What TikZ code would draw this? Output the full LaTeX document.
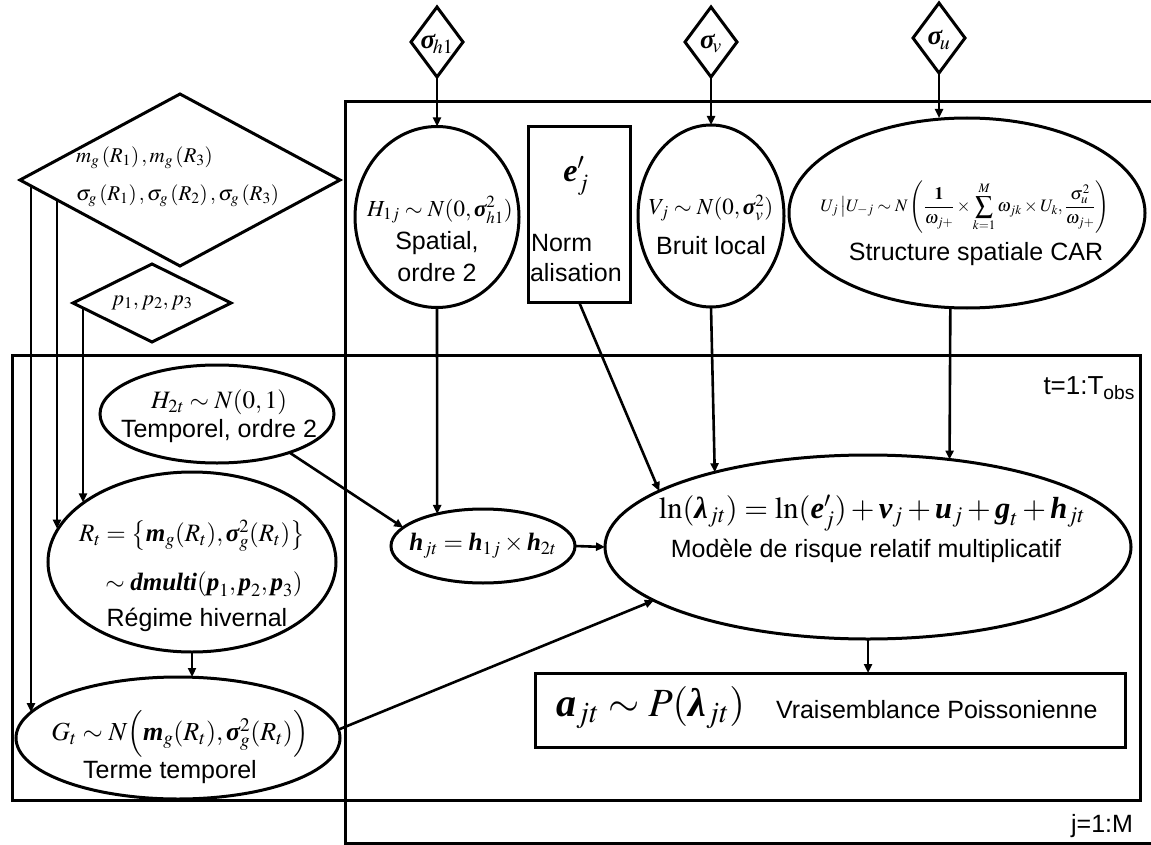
\documentclass[tikz,border=0pt]{standalone}
\usepackage{amsmath}
\usepackage{mathptmx}
\usepackage[no-math]{fontspec}
\setmainfont{Liberation Sans}
\newfontfamily\tms{Liberation Serif}
\usetikzlibrary{shapes.geometric,arrows.meta,calc}
\newcommand\B[1]{\text{\tms\bfseries\itshape #1}}
\newcommand\fs[1]{\fontsize{#1}{#1}\selectfont}
\begin{document}
\begin{tikzpicture}[x=1pt,y=-1pt,
  every node/.style={inner sep=0pt,outer sep=0pt},
  shp/.style={draw,line width=3pt},
  ell/.style={shp,ellipse},
  dia/.style={shp,diamond},
  arr/.style={line width=2.6pt,-{Triangle[length=9pt,width=8pt]}},
  lab/.style={font=\fs{25}},
  plate/.style={line width=3pt},
]
\useasboundingbox (0,0) rectangle (1151,845);
% plates
\draw[plate] (345,102) rectangle (1200,843);
\draw[plate] (12,355) rectangle (1140,800);
\node[font=\fs{26},anchor=east] (tl) at (1135,388) {t=1:T\textsubscript{obs}};
\node[font=\fs{25},anchor=east] (jl) at (1133,826) {j=1:M};

% hyperparameter diamonds
\node[dia,minimum width=52pt,minimum height=70pt] (Sh) at (437,42) {};
\node[dia,minimum width=52pt,minimum height=70pt] (Sv) at (711,42) {};
\node[dia,minimum width=52pt,minimum height=70pt] (Su) at (939,38) {};
\node[font=\fs{27}] (Sht) at (437,44) {$\B{σ}_{\!h1}$};
\node[font=\fs{27}] (Svt) at (711,44) {$\B{σ}_{\!v}$};
\node[font=\fs{27}] (Sut) at (939,40) {$\B{σ}_{\!u}$};

\node[dia,minimum width=320pt,minimum height=172pt] (MG) at (180,180) {};
\node[font=\fs{21},anchor=west] (MGa) at (76,158) {$m_g\left(R_1\right),m_g\left(R_3\right)$};
\node[font=\fs{21},anchor=west] (MGb) at (76,196) {$\sigma_g\left(R_1\right),\sigma_g\left(R_2\right),\sigma_g\left(R_3\right)$};
\node[dia,minimum width=158pt,minimum height=78pt] (P) at (152,303) {};
\node[font=\fs{22}] (Pt) at (152,303) {$p_1,p_2,p_3$};

% spatial nodes
\node[ell,minimum width=164pt,minimum height=181pt] (H1) at (437,217) {};
\node[font=\fs{23}] (H1f) at (440,210) {$H_{1j}\sim N(0,\B{σ}^2_{h1})$};
\node[lab] (H1a) at (437,243) {Spatial,};
\node[lab] (H1b) at (437,273) {ordre 2};

\node[shp,minimum width=102pt,minimum height=175pt] (E) at (579,214.5) {};
\node[font=\fs{32}] (Ef) at (576,176) {$\B{e}^{\prime}_{j}$};
\node[lab,anchor=west] (Ea) at (531,243) {Norm};
\node[lab,anchor=west] (Eb) at (530,273) {alisation};

\node[ell,minimum width=146pt,minimum height=182pt] (V) at (711,216) {};
\node[font=\fs{23}] (Vf) at (711,208) {$V_j\sim N(0,\B{σ}^2_v)$};
\node[lab] (Va) at (711,246) {Bruit local};

\node[ell,minimum width=356pt,minimum height=190pt] (CAR) at (967,213) {};
\node[font=\fs{17.5}] (CARf) at (965,207) {$\displaystyle U_j\,\bigl|U_{-j}\sim N\left(\frac{\mathbf{1}}{\omega_{j+}}\times\sum_{k=1}^{M}\omega_{jk}\times U_k,\frac{\sigma_u^2}{\omega_{j+}}\right)$};
\node[lab] (CARa) at (976,254) {Structure spatiale CAR};

% temporal nodes
\node[ell,minimum width=234pt,minimum height=98pt] (H2) at (217,414) {};
\node[font=\fs{25}] (H2f) at (219,402) {$H_{2t}\sim N(0,1)$};
\node[lab] (H2a) at (219,431) {Temporel, ordre 2};

\node[ell,minimum width=288pt,minimum height=180pt] (Rt) at (192,562) {};
\node[font=\fs{25}] (Rtf) at (192,536) {$R_t=\bigl\{\B{m}_g(R_t),\B{σ}^2_g(R_t)\bigr\}$};
\node[font=\fs{25}] (Rtg) at (204,584) {$\sim\B{dmulti}(\B{p}_1,\B{p}_2,\B{p}_3)$};
\node[lab] (Rta) at (197,620) {Régime hivernal};

\node[ell,minimum width=324pt,minimum height=122pt] (Gt) at (178,738) {};
\node[font=\fs{26}] (Gtf) at (180,734) {$G_t\sim N\Bigl(\B{m}_g(R_t),\B{σ}^2_g(R_t)\Bigr)$};
\node[lab] (Gta) at (170,772) {Terme temporel};

% interaction and model
\node[ell,minimum width=184pt,minimum height=74pt] (h) at (483,546) {};
\node[font=\fs{25}] (hf) at (483,546) {$\B{h}_{jt}=\B{h}_{1j}\times\B{h}_{2t}$};

\node[ell,minimum width=526pt,minimum height=184pt] (Mod) at (868,547) {};
\node[font=\fs{30.5}] (Modf) at (872,513) {$\ln(\B{λ}_{jt})=\ln(\B{e}^{\prime}_{j})+\B{v}_j+\B{u}_j+\B{g}_t+\B{h}_{jt}$};
\node[lab] (Moda) at (866,551) {Modèle de risque relatif multiplicatif};

\node[shp,minimum width=590pt,minimum height=74pt] (Po) at (830.5,710) {};
\node[font=\fs{40},anchor=west] (Pof) at (556,708) {$\B{a}_{jt}\sim P(\B{λ}_{jt})$};
\node[font=\fs{25},anchor=west] (Poa) at (776,710) {Vraisemblance Poissonienne};

% connectors
\draw[arr] (Sh.south) -- (H1.north);
\draw[arr] (Sv.south) -- (V.north);
\draw[arr] (Su.south) -- (Su.south |- CAR.north);

\coordinate (a1) at (intersection of MG.west--MG.south and 31,0--31,900);
\coordinate (a2) at (intersection of MG.west--MG.south and 57,0--57,900);
\coordinate (a3) at (intersection of P.west--P.south and 83,0--83,900);
\draw[arr] (a1) -- (a1 |- Gt.170.1);
\draw[arr] (a2) -- (a2 |- Rt.166.9);
\draw[arr] (a3) -- (a3 |- Rt.151.7);
\draw[arr] (Rt.south) -- (Rt.south |- Gt.north);

\draw[arr] (H1.south) -- (h.145.2);
\draw[arr] (H2.-28.3) -- (h.167.1);
\draw[arr] (h.east) -- (Mod.west);
\draw[arr] (E.south) -- (Mod.165.5);
\draw[arr] (V.south) -- (Mod.154.8);
\draw[arr] (CAR.-100.2) -- (Mod.47.6);
\draw[arr] (Gt.3) -- (Mod.194.2);
\draw[arr] (Mod.south) -- (Mod.south |- Po.north);
\end{tikzpicture}
\end{document}
